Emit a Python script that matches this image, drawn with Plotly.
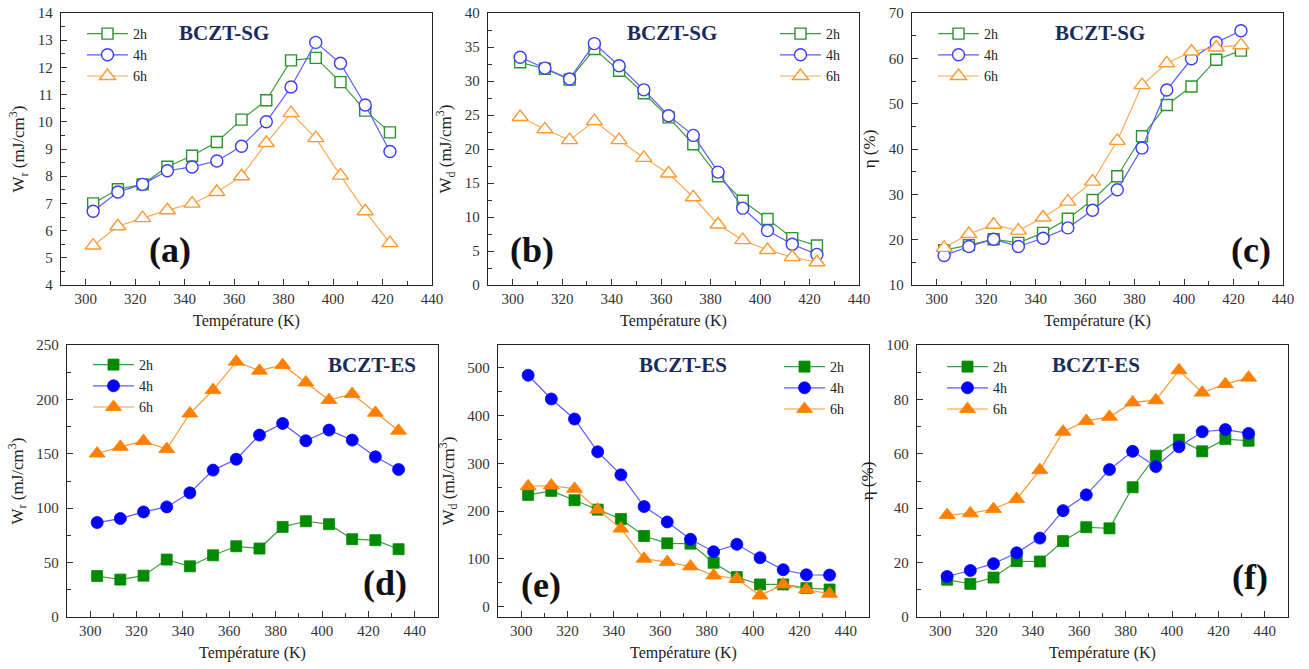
import plotly.graph_objects as go

W, H = 1309, 669

# ---------------- data ----------------
T_SG = [303, 313, 323, 333, 343, 353, 363, 373, 383, 393, 403, 413, 423]
T_ES = [303, 313, 323, 333, 343, 353, 363, 373, 383, 393, 403, 413, 423, 433]
series_names = ["2h", "4h", "6h"]

Wr_SG_2h = [7.0, 7.52, 7.7, 8.35, 8.75, 9.26, 10.08, 10.79, 12.26, 12.35, 11.46, 10.41, 9.61]
Wr_SG_4h = [6.71, 7.42, 7.7, 8.2, 8.34, 8.56, 9.1, 10.0, 11.28, 12.92, 12.15, 10.62, 8.91]
Wr_SG_6h = [5.45, 6.16, 6.46, 6.75, 6.99, 7.42, 8.0, 9.22, 10.32, 9.4, 8.02, 6.71, 5.54]

Wd_SG_2h = [32.75, 31.8, 30.2, 34.7, 31.5, 28.2, 24.65, 20.7, 16.0, 12.4, 9.7, 6.9, 5.8]
Wd_SG_4h = [33.5, 31.9, 30.3, 35.5, 32.25, 28.7, 24.9, 22.0, 16.6, 11.3, 8.0, 6.0, 4.5]
Wd_SG_6h = [24.7, 22.9, 21.3, 24.1, 21.3, 18.7, 16.4, 12.9, 8.9, 6.6, 5.15, 4.1, 3.35]

Eta_SG_2h = [17.7, 18.8, 20.1, 19.3, 21.5, 24.6, 28.75, 34.0, 42.8, 49.7, 53.8, 59.7, 61.7]
Eta_SG_4h = [16.5, 18.5, 20.1, 18.5, 20.3, 22.6, 26.5, 31.0, 40.2, 53.0, 59.9, 63.5, 66.1]
Eta_SG_6h = [18.2, 21.25, 23.3, 22.0, 24.9, 28.4, 32.8, 41.8, 54.1, 58.9, 61.5, 62.4, 62.9]

Wr_ES_2h = [37.7, 34.4, 38.0, 52.8, 46.6, 56.7, 65.0, 62.9, 82.8, 88.0, 85.3, 71.5, 70.6, 62.3]
Wr_ES_4h = [86.8, 90.5, 96.6, 101.2, 114.1, 135.0, 145.0, 167.2, 177.9, 162.0, 171.8, 162.6, 147.2, 135.6]
Wr_ES_6h = [150.3, 156.4, 161.7, 154.3, 187.0, 208.6, 234.7, 226.4, 231.6, 215.6, 199.4, 205.0, 187.7, 171.2]

Wd_ES_2h = [233.9, 242.3, 222.7, 203.0, 183.5, 147.8, 132.4, 131.7, 91.7, 61.6, 46.2, 46.2, 38.5, 35.7]
Wd_ES_4h = [484.6, 434.9, 392.9, 324.2, 275.9, 209.4, 177.2, 140.8, 114.8, 130.3, 102.2, 77.0, 66.5, 65.8]
Wd_ES_6h = [252.0, 253.5, 246.5, 203.0, 163.2, 100.1, 93.1, 84.0, 65.1, 58.1, 23.1, 46.2, 35.7, 26.6]

Eta_ES_2h = [13.7, 12.2, 14.5, 20.5, 20.4, 27.9, 33.0, 32.6, 47.7, 59.3, 65.2, 60.9, 65.4, 64.8]
Eta_ES_4h = [14.9, 17.1, 19.6, 23.6, 29.0, 39.1, 44.9, 54.2, 60.9, 55.3, 62.6, 68.1, 68.9, 67.5]
Eta_ES_6h = [37.5, 38.1, 39.7, 43.4, 54.0, 68.1, 72.1, 73.6, 78.9, 79.7, 90.7, 82.5, 85.6, 88.0]

# ---------------- styles ----------------
SERIF = "Liberation Serif"
NAVY = "#1b2b5e"

open_style = [  # top row: open markers (white fill)
    dict(line="#3c9e3c", edge="#2b932b", symbol="square", size=11),
    dict(line="#5b5bff", edge="#3c3cff", symbol="circle", size=12),
    dict(line="#ffaa55", edge="#ff9933", symbol="triangle-up", size=14),
]
fill_style = [  # bottom row: filled markers
    dict(line="#3c9e3c", fill="#008a00", symbol="square", size=11),
    dict(line="#5b5bff", fill="#0000ff", symbol="circle", size=12),
    dict(line="#ff9933", fill="#ff8000", symbol="triangle-up", size=14),
]

def px(x):
    return x / W

def py(y):
    return 1 - y / H

# panel boxes in page pixels: (left, right, top, bottom)
boxes = [
    (61, 432, 13, 285), (488, 859, 13, 285), (912, 1283, 13, 285),
    (67, 438, 345, 617), (498, 869, 345, 617), (917, 1288, 345, 617),
]

panels = [
    dict(x=T_SG, ys=[Wr_SG_2h, Wr_SG_4h, Wr_SG_6h], filled=False,
         yr=[4, 14], dt=1, mdt=0.5, xr=[290, 440],
         ytitle="W<sub>r</sub> (mJ/cm<sup>3</sup>)",
         leg=(82, 18), tag="BCZT-SG", tagpos=(224, 33), lab="(a)", labpos=(170, 250)),
    dict(x=T_SG, ys=[Wd_SG_2h, Wd_SG_4h, Wd_SG_6h], filled=False,
         yr=[0, 40], dt=5, mdt=2.5, xr=[290, 440],
         ytitle="W<sub>d</sub> (mJ/cm<sup>3</sup>)",
         leg=(775, 18), tag="BCZT-SG", tagpos=(672, 33), lab="(b)", labpos=(532, 250)),
    dict(x=T_SG, ys=[Eta_SG_2h, Eta_SG_4h, Eta_SG_6h], filled=False,
         yr=[10, 70], dt=10, mdt=5, xr=[290, 440],
         ytitle="η (%)",
         leg=(933, 18), tag="BCZT-SG", tagpos=(1100, 33), lab="(c)", labpos=(1251, 250)),
    dict(x=T_ES, ys=[Wr_ES_2h, Wr_ES_4h, Wr_ES_6h], filled=True,
         yr=[0, 250], dt=50, mdt=25, xr=[290, 450],
         ytitle="W<sub>r</sub> (mJ/cm<sup>3</sup>)",
         leg=(88, 349), tag="BCZT-ES", tagpos=(372, 365), lab="(d)", labpos=(385, 583)),
    dict(x=T_ES, ys=[Wd_ES_2h, Wd_ES_4h, Wd_ES_6h], filled=True,
         yr=[-22, 548], dt=100, mdt=50, xr=[290, 450],
         ytitle="W<sub>d</sub> (mJ/cm<sup>3</sup>)",
         leg=(779, 351), tag="BCZT-ES", tagpos=(683, 365), lab="(e)", labpos=(541, 585)),
    dict(x=T_ES, ys=[Eta_ES_2h, Eta_ES_4h, Eta_ES_6h], filled=True,
         yr=[0, 100], dt=20, mdt=10, xr=[290, 450],
         ytitle="η (%)",
         leg=(942, 351), tag="BCZT-ES", tagpos=(1096, 365), lab="(f)", labpos=(1250, 577)),
]

fig = go.Figure()
layout = dict(
    width=W, height=H, margin=dict(l=0, r=0, t=0, b=0, autoexpand=False),
    paper_bgcolor="white", plot_bgcolor="white",
    font=dict(family=SERIF, size=14, color="#222"),
    annotations=[],
)

for i, p in enumerate(panels):
    k = i + 1
    xa = "x" if k == 1 else f"x{k}"
    ya = "y" if k == 1 else f"y{k}"
    legname = "legend" if k == 1 else f"legend{k}"
    for j, name in enumerate(series_names):
        if p["filled"]:
            st = fill_style[j]
            marker = dict(symbol=st["symbol"], size=st["size"], color=st["fill"],
                          line=dict(width=0.8, color=st["fill"]))
        else:
            st = open_style[j]
            marker = dict(symbol=st["symbol"], size=st["size"], color="white",
                          line=dict(width=1.4, color=st["edge"]))
        fig.add_trace(go.Scatter(
            x=p["x"], y=p["ys"][j], name=name, mode="lines+markers",
            line=dict(color=st["line"], width=1.2), marker=marker,
            xaxis=xa, yaxis=ya, legend=legname, showlegend=True,
        ))
    l, r, t, b = boxes[i]
    axis_common = dict(
        showline=True, linecolor="#222", linewidth=1.3, mirror=True,
        ticks="inside", ticklen=6, tickwidth=1.2, tickcolor="#333",
        showgrid=False, zeroline=False, automargin=False,
        tickfont=dict(family=SERIF, size=15, color="#333"),
    )
    layout["xaxis" if k == 1 else f"xaxis{k}"] = dict(
        axis_common, domain=[px(l), px(r)], anchor=ya, range=p["xr"],
        tick0=300, dtick=20,
        minor=dict(dtick=10, tick0=300, ticks="inside", ticklen=4, tickcolor="#333"),
        title=dict(text="Température (K)", font=dict(family=SERIF, size=16, color="#222"),
                   standoff=8),
    )
    layout["yaxis" if k == 1 else f"yaxis{k}"] = dict(
        axis_common, domain=[py(b), py(t)], anchor=xa, range=p["yr"],
        tick0=0, dtick=p["dt"],
        minor=dict(dtick=p["mdt"], ticks="inside", ticklen=4, tickcolor="#333"),
        title=dict(text=p["ytitle"], font=dict(family=SERIF, size=17, color="#222"),
                   standoff=8),
        ticklabelstandoff=4,
    )
    lx, ly = p["leg"]
    layout[legname] = dict(
        x=px(lx), y=py(ly), xanchor="left", yanchor="top",
        bgcolor="rgba(0,0,0,0)", borderwidth=0,
        font=dict(family=SERIF, size=14, color="#222"),
        tracegroupgap=0, itemwidth=41,
    )
    tx, ty = p["tagpos"]
    layout["annotations"].append(dict(
        x=px(tx), y=py(ty), xref="paper", yref="paper", text=f"<b>{p['tag']}</b>",
        showarrow=False, xanchor="center", yanchor="middle",
        font=dict(family=SERIF, size=21, color=NAVY)))
    bx, by = p["labpos"]
    layout["annotations"].append(dict(
        x=px(bx), y=py(by), xref="paper", yref="paper", text=f"<b>{p['lab']}</b>",
        showarrow=False, xanchor="center", yanchor="middle",
        font=dict(family=SERIF, size=36, color="#111")))

fig.update_layout(**layout)
# remove the default 8px page margin so the figure sits exactly in the window
fig.write_html(
    "out.html",
    config={"displayModeBar": False},
    post_script="document.body.style.margin='0';document.body.style.overflow='hidden';",
)
